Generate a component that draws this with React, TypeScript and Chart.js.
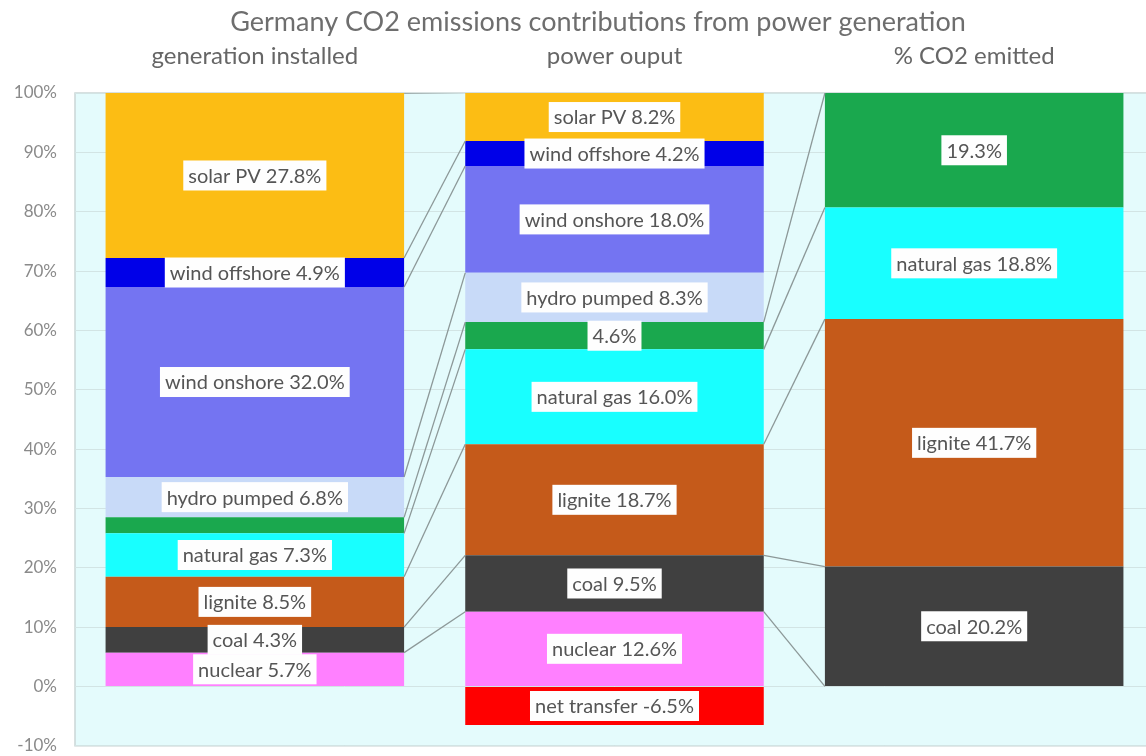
import React, { useEffect, useRef } from "react";
import { Chart, registerables } from "chart.js";

Chart.register(...registerables);

const chartTitle = "Germany CO2 emissions contributions from power generation";
const categories = ["generation installed", "power ouput", "% CO2 emitted"];

const seriesNames = [
  "nuclear",
  "coal",
  "lignite",
  "natural gas",
  "",
  "hydro pumped",
  "wind onshore",
  "wind offshore",
  "solar PV",
  "net transfer",
];

const nuclear = [5.7, 12.6, 0];
const coal = [4.3, 9.5, 20.2];
const lignite = [8.5, 18.7, 41.7];
const naturalGas = [7.3, 16.0, 18.8];
const otherGreen = [2.7, 4.6, 19.3];
const hydroPumped = [6.8, 8.3, null];
const windOnshore = [32.0, 18.0, null];
const windOffshore = [4.9, 4.2, null];
const solarPV = [27.8, 8.2, null];
const netTransfer = [null, -6.5, null];

const seriesValues = [
  nuclear,
  coal,
  lignite,
  naturalGas,
  otherGreen,
  hydroPumped,
  windOnshore,
  windOffshore,
  solarPV,
  netTransfer,
];

const seriesColors = [
  "#ff80ff",
  "#404040",
  "#c55a1a",
  "#18ffff",
  "#1aa84e",
  "#c8daf8",
  "#7474f2",
  "#0000e8",
  "#fcbd14",
  "#ff0000",
];

const yMin = -10;
const yMax = 100;
const yStep = 10;
const minLabelValue = 3;

const bgPlugin = {
  id: "plotBackground",
  beforeDraw(chart: any) {
    const { ctx, chartArea: a, width, height } = chart;
    ctx.save();
    ctx.fillStyle = "#ffffff";
    ctx.fillRect(0, 0, width, height);
    ctx.fillStyle = "#e4fbfc";
    ctx.fillRect(a.left, a.top, a.right - a.left, a.bottom - a.top);
    ctx.strokeStyle = "#cad6d6";
    ctx.lineWidth = 1.5;
    ctx.strokeRect(a.left, a.top, a.right - a.left, a.bottom - a.top);
    ctx.restore();
  },
};

const seriesLinesPlugin = {
  id: "seriesLines",
  afterDatasetsDraw(chart: any) {
    const { ctx, chartArea: a } = chart;
    ctx.save();
    ctx.beginPath();
    ctx.rect(a.left, a.top, a.right - a.left, a.bottom - a.top);
    ctx.clip();
    ctx.strokeStyle = "#8c9898";
    ctx.lineWidth = 1.3;
    chart.data.datasets.forEach((ds: any, di: number) => {
      const meta = chart.getDatasetMeta(di);
      for (let i = 0; i < ds.data.length - 1; i++) {
        if (ds.data[i] == null || ds.data[i + 1] == null) continue;
        const e1 = meta.data[i];
        const e2 = meta.data[i + 1];
        const y1 = Math.min(e1.y, e1.base);
        const y2 = Math.min(e2.y, e2.base);
        ctx.beginPath();
        ctx.moveTo(e1.x + e1.width / 2, y1);
        ctx.lineTo(e2.x - e2.width / 2, y2);
        ctx.stroke();
      }
    });
    ctx.restore();
  },
};

const labelsPlugin = {
  id: "segmentLabels",
  afterDraw(chart: any) {
    const { ctx, chartArea: a } = chart;
    ctx.save();
    ctx.font = "20px Lato";
    ctx.textAlign = "center";
    ctx.textBaseline = "middle";
    chart.data.datasets.forEach((ds: any, di: number) => {
      const meta = chart.getDatasetMeta(di);
      ds.data.forEach((v: any, i: number) => {
        if (v == null || Math.abs(v) < minLabelValue) return;
        const el = meta.data[i];
        const top = Math.max(Math.min(el.y, el.base), a.top);
        const bot = Math.min(Math.max(el.y, el.base), a.bottom);
        const cy = (top + bot) / 2;
        const name = seriesNames[di];
        const text = (name ? name + " " : "") + Number(v).toFixed(1) + "%";
        const w = ctx.measureText(text).width;
        const padX = 5;
        const h = 30;
        ctx.fillStyle = "#fefefe";
        ctx.fillRect(el.x - w / 2 - padX, cy - h / 2, w + padX * 2, h);
        ctx.fillStyle = "#555555";
        ctx.fillText(text, el.x, cy + 1);
      });
    });
    ctx.font = "27px Lato";
    ctx.fillStyle = "#6e6e6e";
    ctx.fillText(chartTitle, 598, 22);
    ctx.restore();
  },
};

export default function App() {
  const ref = useRef<HTMLCanvasElement | null>(null);

  useEffect(() => {
    if (!ref.current) return;
    const chart = new Chart(ref.current, {
      type: "bar",
      data: {
        labels: categories,
        datasets: seriesValues.map((vals, i) => ({
          label: seriesNames[i] || "other",
          data: vals as any,
          backgroundColor: seriesColors[i],
          borderWidth: 0,
          categoryPercentage: 1,
          barPercentage: 0.83,
        })),
      },
      options: {
        responsive: false,
        animation: false,
        layout: { padding: { left: 0, right: 6, top: 0, bottom: 10 } },
        plugins: {
          legend: { display: false },
          tooltip: { enabled: false },
          title: { display: false },
        },
        scales: {
          x: {
            position: "top",
            stacked: true,
            grid: { display: false },
            border: { display: false },
            ticks: {
              padding: 14,
              color: "#666666",
              font: { family: "Lato", size: 24 },
            },
            afterFit(s: any) {
              s.height = 93;
            },
          },
          y: {
            stacked: true,
            min: yMin,
            max: yMax,
            ticks: {
              stepSize: yStep,
              callback: (v: any) => v + "%",
              color: "#8a8a8a",
              font: { family: "Lato", size: 17 },
              padding: 18,
            },
            grid: { color: "#d2e4e4", drawTicks: false },
            border: { display: false },
            afterFit(s: any) {
              s.width = 75;
            },
          },
        },
      } as any,
      plugins: [bgPlugin, seriesLinesPlugin, labelsPlugin],
    });
    return () => chart.destroy();
  }, []);

  return (
    <div
      style={{
        position: "fixed",
        left: 0,
        top: 0,
        width: 1146,
        height: 756,
        overflow: "hidden",
        background: "#ffffff",
      }}
    >
      <canvas ref={ref} width={1160} height={774} style={{ display: "block" }} />
    </div>
  );
}
